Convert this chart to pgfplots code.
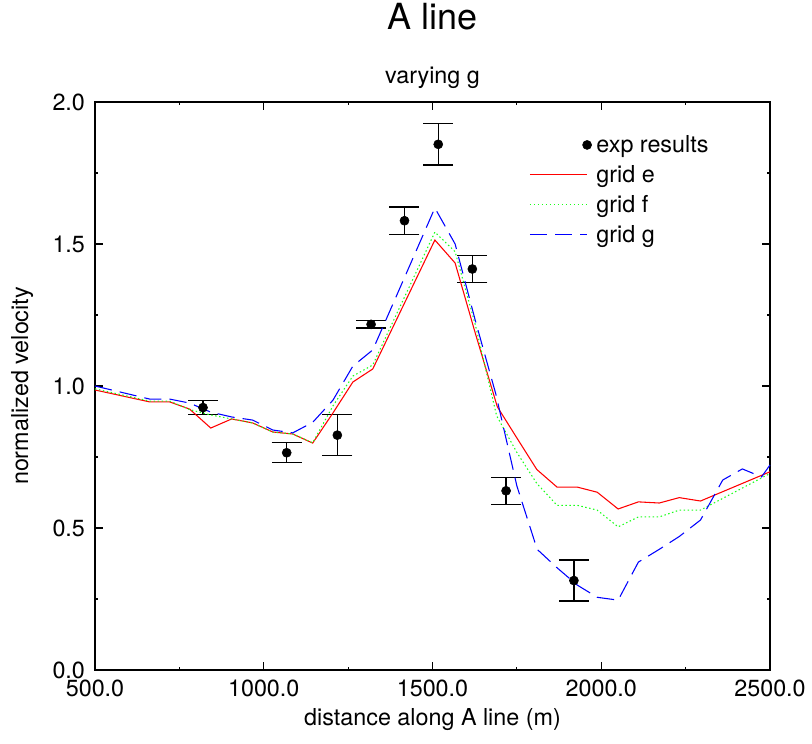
\documentclass[border=0pt]{standalone}
\usepackage{fontspec}
\setmainfont{TeX Gyre Heros}
\usepackage{pgfplots}
\pgfplotsset{compat=1.18}
\definecolor{gred}{rgb}{1,0,0}
\definecolor{ggreen}{rgb}{0.1,1,0.1}
\definecolor{gblue}{rgb}{0,0,1}
\begin{document}
\begin{tikzpicture}
\useasboundingbox (0,0) rectangle (609pt,557.25pt);
\begin{axis}[
  at={(71.25pt,54.75pt)}, anchor=south west,
  width=506.25pt, height=426pt, scale only axis,
  xmin=500, xmax=2500, ymin=0, ymax=2,
  xtick={500,1000,1500,2000,2500}, ytick={0,0.5,1,1.5,2},
  minor x tick num=1, minor y tick num=1,
  tick align=inside, tick pos=both,
  major tick length=6pt, minor tick length=2.6pt,
  axis line style={line width=1pt},
  tick style={black, line width=0.8pt},
  ticklabel style={font=\fontsize{17.5}{20}\selectfont},
  xticklabel style={yshift=-4pt},
  yticklabel style={xshift=-4pt},
  /pgf/number format/.cd, fixed, fixed zerofill, precision=1, 1000 sep={}, assume math mode=true, /pgfplots/.cd,
  xlabel={distance along A line (m)},
  ylabel={normalized velocity},
  xlabel style={at={(axis description cs:0.5,-0.088)}, anchor=center, font=\fontsize{17.5}{20}\selectfont},
  ylabel style={at={(axis description cs:-0.108,0.5)}, anchor=center, font=\fontsize{17.5}{20}\selectfont},
  title={A line},
  title style={at={(axis description cs:0.5,1.1356)}, anchor=center, font=\fontsize{27}{30}\selectfont},
  clip=false,
  legend style={draw=none, fill=none, at={(axis description cs:0.637,0.951)}, anchor=north west,
    font=\fontsize{17.5}{21}\selectfont, row sep=4.2pt},
  legend cell align=left,
  legend image code/.code={\path[draw=none,fill=none] (0pt,-1pt) rectangle (48pt,1pt); \draw[#1] (0pt,0pt) -- (43pt,0pt);},
]
\node[font=\fontsize{17.5}{20}\selectfont] at (axis description cs:0.5,1.042) {varying g};

\addplot[only marks, mark=*, mark size=3.4pt, black, mark options={black, fill=black},
  legend image code/.code={\path[draw=none,fill=none] (0pt,-1pt) rectangle (48pt,1pt); \fill[black] (43pt,0pt) circle (3.4pt);},
  error bars/.cd, y dir=both, y explicit,
  error bar style={line width=0.9pt, black},
  error mark options={rotate=90, mark size=11.25pt, line width=0.9pt, black}]
coordinates {
 (820,0.924) +- (0,0.024)
 (1068,0.765) +- (0,0.035)
 (1218,0.827) +- (0,0.073)
 (1318,1.217) +- (0,0.013)
 (1417,1.582) +- (0,0.048)
 (1517,1.851) +- (0,0.073)
 (1618,1.412) +- (0,0.047)
 (1718,0.631) +- (0,0.048)
 (1919,0.315) +- (0,0.072)
};
\addlegendentry{exp results}

\addplot[gred, line width=0.8pt] coordinates {
 (500,0.986) (662,0.944) (721,0.944) (780,0.919) (843,0.852) (905,0.884)
 (967,0.870) (1027,0.838) (1086,0.831) (1145,0.799) (1205,0.905) (1264,1.014)
 (1323,1.060) (1385,1.213) (1445,1.361) (1507,1.514) (1567,1.433) (1627,1.185)
 (1692,0.927) (1750,0.817) (1809,0.706) (1869,0.644) (1929,0.644) (1988,0.626)
 (2050,0.567) (2110,0.592) (2172,0.588) (2231,0.607) (2294,0.595) (2500,0.698)
};
\addlegendentry{grid e}

\addplot[ggreen, line width=0.8pt, dash pattern=on 1.1pt off 1.9pt] coordinates {
 (500,0.990) (662,0.947) (721,0.947) (780,0.917) (843,0.898) (905,0.884)
 (967,0.870) (1027,0.838) (1086,0.831) (1145,0.800) (1205,0.930) (1264,1.035)
 (1323,1.074) (1385,1.232) (1445,1.384) (1507,1.542) (1567,1.473) (1627,1.215)
 (1690,0.895) (1750,0.766) (1809,0.657) (1869,0.580) (1929,0.580) (1988,0.563)
 (2050,0.504) (2110,0.539) (2172,0.539) (2231,0.563) (2294,0.563) (2500,0.692)
};
\addlegendentry{grid f}

\addplot[gblue, line width=0.8pt, dash pattern=on 13pt off 6pt] coordinates {
 (500,1.000) (662,0.954) (721,0.954) (780,0.940) (843,0.908) (905,0.891)
 (967,0.880) (1027,0.845) (1086,0.835) (1145,0.872) (1205,0.950) (1264,1.070)
 (1323,1.127) (1385,1.295) (1445,1.458) (1507,1.627) (1567,1.500) (1627,1.230)
 (1688,0.970) (1750,0.648) (1810,0.425) (1869,0.360) (1929,0.299) (1988,0.256)
 (2050,0.246) (2110,0.380) (2172,0.425) (2231,0.470) (2294,0.528) (2360,0.669)
 (2418,0.708) (2475,0.680) (2500,0.722)
};
\addlegendentry{grid g}
\end{axis}
\end{tikzpicture}
\end{document}
